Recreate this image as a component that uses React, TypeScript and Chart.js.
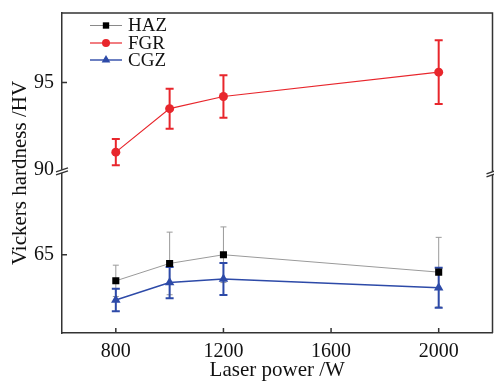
import React, { useEffect, useRef } from 'react';
import { Chart, registerables } from 'chart.js';
import { drawPoint } from 'chart.js/helpers';

Chart.register(...registerables);

const powers = [800, 1000, 1200, 2000];
const hazMean = [63.5, 64.5, 65.0, 64.0];
const hazErr = [0.9, 1.8, 1.6, 2.0];
const fgrMean = [91.0, 93.5, 94.2, 95.6];
const fgrErr = [0.75, 1.15, 1.22, 1.83];
const cgzMean = [62.4, 63.4, 63.6, 63.1];
const cgzErr = [0.65, 0.9, 0.92, 1.15];

const xTicks = [800, 1200, 1600, 2000];
const upperTicks = [90, 95];
const lowerTicks = [65];
const seriesNames = ['HAZ', 'FGR', 'CGZ'];
const xTitle = 'Laser power /W';
const yTitle = 'Vickers hardness /HV';

const SERIF = '"Liberation Serif", "Times New Roman", serif';
const AXIS = '#333';
const TXT = '#111';

export default function App() {
  const ref = useRef<HTMLCanvasElement>(null);

  useEffect(() => {
    if (!ref.current) return;
    const errs = [hazErr, fgrErr, cgzErr];
    const errStyle = [
      { color: '#9a9a9a', width: 1, cap: 3 },
      { color: '#e8262c', width: 2, cap: 4 },
      { color: '#2d4aa8', width: 2, cap: 4 },
    ];
    const legendMarker = [
      { style: 'rect', r: 4.5, fill: '#000', line: '#8a8a8a', lw: 1 },
      { style: 'circle', r: 4, fill: '#e8262c', line: '#e8262c', lw: 1.2 },
      { style: 'triangle', r: 5, fill: '#2d4aa8', line: '#2d4aa8', lw: 1.4 },
    ];

    const errorBars = {
      id: 'errorBars',
      beforeDatasetsDraw(chart: any) {
        const { ctx } = chart;
        const xs = chart.scales.x;
        chart.data.datasets.forEach((ds: any, i: number) => {
          const ys = chart.scales[ds.yAxisID];
          const st = errStyle[i];
          ctx.save();
          ctx.strokeStyle = st.color;
          ctx.lineWidth = st.width;
          ds.data.forEach((p: any, j: number) => {
            const px = xs.getPixelForValue(p.x);
            const t = ys.getPixelForValue(p.y + errs[i][j]);
            const b = ys.getPixelForValue(p.y - errs[i][j]);
            ctx.beginPath();
            ctx.moveTo(px, t);
            ctx.lineTo(px, b);
            ctx.moveTo(px - st.cap, t);
            ctx.lineTo(px + st.cap, t);
            ctx.moveTo(px - st.cap, b);
            ctx.lineTo(px + st.cap, b);
            ctx.stroke();
          });
          ctx.restore();
        });
      },
    };

    const frame = {
      id: 'frame',
      afterDraw(chart: any) {
        const { ctx, chartArea } = chart;
        const { left, right, top, bottom } = chartArea;
        const xs = chart.scales.x;
        const yl = chart.scales.yLow;
        const yh = chart.scales.yHigh;
        ctx.save();
        ctx.strokeStyle = AXIS;
        ctx.lineWidth = 1.5;
        ctx.beginPath();
        ctx.moveTo(left, top);
        ctx.lineTo(right, top);
        ctx.lineTo(right, bottom);
        ctx.stroke();
        // inward ticks
        ctx.beginPath();
        xTicks.forEach((v) => {
          const px = xs.getPixelForValue(v);
          ctx.moveTo(px, bottom);
          ctx.lineTo(px, bottom - 5);
        });
        upperTicks.forEach((v) => {
          const py = yh.getPixelForValue(v);
          if (Math.abs(py - yh.bottom) < 4) return;
          ctx.moveTo(left, py);
          ctx.lineTo(left + 5, py);
        });
        lowerTicks.forEach((v) => {
          const py = yl.getPixelForValue(v);
          ctx.moveTo(left, py);
          ctx.lineTo(left + 5, py);
        });
        ctx.stroke();
        // axis breaks
        const by = yh.bottom;
        [left, right].forEach((bx, k) => {
          const yy = by + (k === 1 ? 2 : 0);
          ctx.fillStyle = '#fff';
          ctx.fillRect(bx - 2, yy - 1.5, 4, 3);
          ctx.lineWidth = 1.3;
          ctx.beginPath();
          ctx.moveTo(bx - 6, yy + 0.5);
          ctx.lineTo(bx + 6, yy - 3.5);
          ctx.moveTo(bx - 6, yy + 3.5);
          ctx.lineTo(bx + 6, yy - 0.5);
          ctx.stroke();
        });
        // y title
        ctx.save();
        ctx.translate(20, (top + bottom) / 2);
        ctx.rotate(-Math.PI / 2);
        ctx.fillStyle = TXT;
        ctx.font = `21px ${SERIF}`;
        ctx.textAlign = 'center';
        ctx.textBaseline = 'middle';
        ctx.fillText(yTitle, 0, 0);
        ctx.restore();
        // legend
        const rows = [25.5, 43, 60];
        seriesNames.forEach((name, i) => {
          const m = legendMarker[i];
          const y = rows[i];
          ctx.strokeStyle = m.line;
          ctx.lineWidth = m.lw;
          ctx.beginPath();
          ctx.moveTo(90, y);
          ctx.lineTo(122, y);
          ctx.stroke();
          ctx.fillStyle = m.fill;
          ctx.strokeStyle = m.fill;
          drawPoint(ctx, { pointStyle: m.style as any, radius: m.r, rotation: 0, borderWidth: 0 }, 106, y);
          ctx.fillStyle = TXT;
          ctx.font = `19px ${SERIF}`;
          ctx.textAlign = 'left';
          ctx.textBaseline = 'middle';
          ctx.fillText(name, 128, y + 1);
        });
        ctx.restore();
      },
    };

    const tickFont = { family: SERIF, size: 20 };
    const mk = (means: number[]) => powers.map((x, i) => ({ x, y: means[i] }));
    const noPad = (s: any) => {
      s.paddingTop = 0;
      s.paddingBottom = 0;
      s.paddingLeft = 0;
      s.paddingRight = 0;
    };

    const chart = new Chart(ref.current, {
      type: 'line',
      data: {
        datasets: [
          {
            label: seriesNames[0],
            data: mk(hazMean),
            yAxisID: 'yLow',
            borderColor: '#9a9a9a',
            borderWidth: 1,
            pointStyle: 'rect',
            pointRadius: 5,
            pointBackgroundColor: '#000',
            pointBorderColor: '#000',
            pointBorderWidth: 0,
          },
          {
            label: seriesNames[1],
            data: mk(fgrMean),
            yAxisID: 'yHigh',
            borderColor: '#e8262c',
            borderWidth: 1.2,
            pointStyle: 'circle',
            pointRadius: 4.5,
            pointBackgroundColor: '#e8262c',
            pointBorderColor: '#e8262c',
            pointBorderWidth: 0,
          },
          {
            label: seriesNames[2],
            data: mk(cgzMean),
            yAxisID: 'yLow',
            borderColor: '#2d4aa8',
            borderWidth: 1.5,
            pointStyle: 'triangle',
            pointRadius: 5.5,
            pointBackgroundColor: '#2d4aa8',
            pointBorderColor: '#2d4aa8',
            pointBorderWidth: 0,
          },
        ],
      },
      options: {
        animation: false,
        responsive: true,
        maintainAspectRatio: false,
        layout: { autoPadding: false, padding: { top: 13, right: 1.5, left: 0, bottom: 0 } },
        plugins: { legend: { display: false }, tooltip: { enabled: false } },
        scales: {
          x: {
            type: 'linear',
            min: 600,
            max: 2200,
            afterBuildTicks: (s: any) => {
              s.ticks = xTicks.map((v) => ({ value: v }));
            },
            grid: { display: false, drawTicks: false },
            border: { display: true, color: AXIS, width: 1.5 },
            ticks: { font: tickFont, color: TXT, padding: 7, maxRotation: 0, callback: (v: any) => String(v) },
            title: { display: true, text: xTitle, font: { family: SERIF, size: 21, lineHeight: 1 }, color: TXT, padding: { top: 0, bottom: 0 } },
            afterFit: (s: any) => {
              s.height = 48;
              noPad(s);
            },
          },
          yLow: {
            type: 'linear',
            position: 'left',
            stack: 'y',
            stackWeight: 9.3,
            weight: 0,
            min: 60.5,
            max: 69.8,
            afterBuildTicks: (s: any) => {
              s.ticks = lowerTicks.map((v) => ({ value: v }));
            },
            grid: { display: false, drawTicks: false },
            border: { display: true, color: AXIS, width: 1.5 },
            ticks: { font: tickFont, color: TXT, padding: 8, callback: (v: any) => String(v) },
            afterFit: (s: any) => {
              s.width = 62;
              noPad(s);
            },
          },
          yHigh: {
            type: 'linear',
            position: 'left',
            stack: 'y',
            stackWeight: 9.1,
            weight: 1,
            min: 89.9,
            max: 99,
            afterBuildTicks: (s: any) => {
              s.ticks = upperTicks.map((v) => ({ value: v }));
            },
            grid: { display: false, drawTicks: false },
            border: { display: true, color: AXIS, width: 1.5 },
            ticks: { font: tickFont, color: TXT, padding: 8, callback: (v: any) => String(v) },
            afterFit: (s: any) => {
              s.width = 62;
              noPad(s);
            },
          },
        },
      } as any,
      plugins: [errorBars, frame],
    });
    return () => chart.destroy();
  }, []);

  return (
    <div style={{ position: 'absolute', left: 0, top: 0, width: 494, height: 381 }}>
      <canvas ref={ref} />
    </div>
  );
}
